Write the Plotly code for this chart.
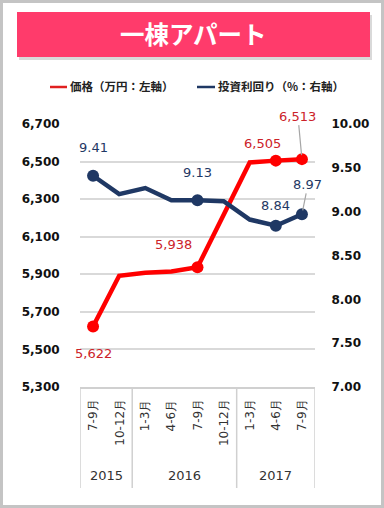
import plotly.graph_objects as go

years = ["2015", "2015", "2016", "2016", "2016", "2016", "2017", "2017", "2017"]
quarters = ["7-9月", "10-12月", "1-3月", "4-6月", "7-9月", "10-12月", "1-3月", "4-6月", "7-9月"]
price = [5622, 5892, 5908, 5915, 5938, 6220, 6495, 6505, 6513]
yield_pct = [9.41, 9.20, 9.27, 9.13, 9.13, 9.12, 8.91, 8.84, 8.97]
marked = [0, 4, 7, 8]

RED = "#ff0000"
RED_TXT = "#cc2229"
NAVY = "#1f3864"
FONT = "DejaVu Sans"
JFONT = "Noto Sans CJK JP"

idx = list(range(len(price)))
sizes = [12 if i in marked else 0 for i in idx]

fig = go.Figure()
fig.add_trace(go.Scatter(x=idx, y=price, mode="lines+markers",
                         line=dict(color=RED, width=4.5),
                         marker=dict(color=RED, size=sizes, opacity=1, line=dict(width=0)),
                         yaxis="y", showlegend=False, cliponaxis=False, hoverinfo="skip"))
fig.add_trace(go.Scatter(x=idx, y=yield_pct, mode="lines+markers",
                         line=dict(color=NAVY, width=4.5),
                         marker=dict(color=NAVY, size=sizes, opacity=1, line=dict(width=0)),
                         yaxis="y2", showlegend=False, cliponaxis=False, hoverinfo="skip"))

W, H = 384, 508
L, R, T, B = 80, 69, 124, 121
pw, ph = W - L - R, H - T - B


def px(x):
    return (x - L) / pw


def py(y):
    return (H - B - y) / ph


shapes = [
    dict(type="rect", xref="paper", yref="paper", x0=px(1.5), x1=px(382.5), y0=py(1.5), y1=py(506.5),
         line=dict(color="#c4c4c4", width=3), layer="below"),
    dict(type="rect", xref="paper", yref="paper", x0=px(19), x1=px(372), y0=py(15), y1=py(60),
         fillcolor="rgba(0,0,0,0.15)", line=dict(width=0), layer="below"),
    dict(type="rect", xref="paper", yref="paper", x0=px(17), x1=px(370), y0=py(12), y1=py(57),
         fillcolor="#ff3b6b", line=dict(width=0), layer="below"),
    dict(type="line", xref="paper", yref="paper", x0=px(50), x1=px(67), y0=py(87), y1=py(87),
         line=dict(color="#e02020", width=2.5)),
    dict(type="line", xref="paper", yref="paper", x0=px(197), x1=px(215), y0=py(87), y1=py(87),
         line=dict(color=NAVY, width=2.5)),
]

annotations = [
    dict(text="<b>一棟アパート</b>", xref="paper", yref="paper", x=px(193), y=py(34),
         xanchor="center", yanchor="middle",
         showarrow=False, font=dict(family=JFONT, size=24.5, color="white")),
    dict(text="<b>価格（万円：左軸）</b>", xref="paper", yref="paper", x=px(68), y=py(86),
         xanchor="left", yanchor="middle", showarrow=False,
         font=dict(family=JFONT, size=11.5, color="#222")),
    dict(text="<b>投資利回り（%：右軸）</b>", xref="paper", yref="paper", x=px(216), y=py(86),
         xanchor="left", yanchor="middle", showarrow=False,
         font=dict(family=JFONT, size=11.5, color="#222")),
]

for i, q in enumerate(quarters):
    annotations.append(dict(text=q, x=i, y=py(397), xref="x", yref="paper",
                            yanchor="top", xanchor="center", textangle=-90, showarrow=False,
                            font=dict(family=FONT, size=12, color="#333")))
groups = []
for i, yv in enumerate(years):
    if not groups or groups[-1][0] != yv:
        groups.append([yv, i, i])
    else:
        groups[-1][2] = i
bounds = set()
for yv, a, b in groups:
    annotations.append(dict(text=yv, x=(a + b) / 2, y=py(475), xref="x", yref="paper",
                            xanchor="center", yanchor="middle",
                            showarrow=False, font=dict(family=FONT, size=13, color="#333")))
    bounds.add(a - 0.5)
    bounds.add(b + 0.5)
for bx in sorted(bounds):
    shapes.append(dict(type="line", xref="x", yref="paper", x0=bx, x1=bx, y0=0, y1=py(488),
                       line=dict(color="#d0d0d0", width=1.5)))

red_labels = [(0, 0, 27, False), (4, -24, -23, False), (7, -13, -17, False), (8, -4, -43, True)]
navy_labels = [(0, 0, -28, False), (4, 0, -28, False), (7, 0, -20, False), (8, 6, -30, True)]

for i, dx, dy, lead in red_labels:
    annotations.append(dict(
        text=f"{price[i]:,}", x=i, y=price[i], xref="x", yref="y",
        ax=dx, ay=dy, showarrow=lead, arrowhead=0, arrowwidth=1.2,
        arrowcolor="#a6a6a6", standoff=4,
        xanchor="center", yanchor="middle",
        xshift=0 if lead else dx, yshift=0 if lead else -dy,
        font=dict(family=FONT, size=13, color=RED_TXT)))
for i, dx, dy, lead in navy_labels:
    annotations.append(dict(
        text=f"{yield_pct[i]:.2f}", x=i, y=yield_pct[i], xref="x", yref="y2",
        ax=dx, ay=dy, showarrow=lead, arrowhead=0, arrowwidth=1.2,
        arrowcolor="#a6a6a6", standoff=4,
        xanchor="center", yanchor="middle",
        xshift=0 if lead else dx, yshift=0 if lead else -dy,
        font=dict(family=FONT, size=13, color=NAVY)))

fig.update_layout(
    width=W, height=H,
    margin=dict(l=L, r=R, t=T, b=B, pad=0, autoexpand=False),
    paper_bgcolor="white", plot_bgcolor="white",
    font=dict(family=FONT, color="#333"),
    hovermode=False,
    xaxis=dict(range=[-0.5, len(price) - 0.5], showgrid=False, showline=True,
               linecolor="#d0d0d0", linewidth=1.5, showticklabels=False,
               zeroline=False, ticks="", automargin=False),
    yaxis=dict(range=[5300, 6700], dtick=200, tick0=5300, tickformat=",",
               showgrid=True, gridcolor="#d9d9d9", gridwidth=1.5, zeroline=False,
               tickfont=dict(family=FONT, size=12, color="#111", weight="bold"),
               ticks="outside", ticklen=17, tickcolor="rgba(0,0,0,0)", automargin=False),
    yaxis2=dict(range=[7, 10], dtick=0.5, tick0=7, tickformat=".2f", overlaying="y",
                side="right", showgrid=False, zeroline=False,
                tickfont=dict(family=FONT, size=12, color="#111", weight="bold"),
                ticks="outside", ticklen=13, tickcolor="rgba(0,0,0,0)", automargin=False),
    shapes=shapes, annotations=annotations,
)

fig.write_html("out.html", config={"displayModeBar": False},
               post_script="document.body.style.margin='0';")
